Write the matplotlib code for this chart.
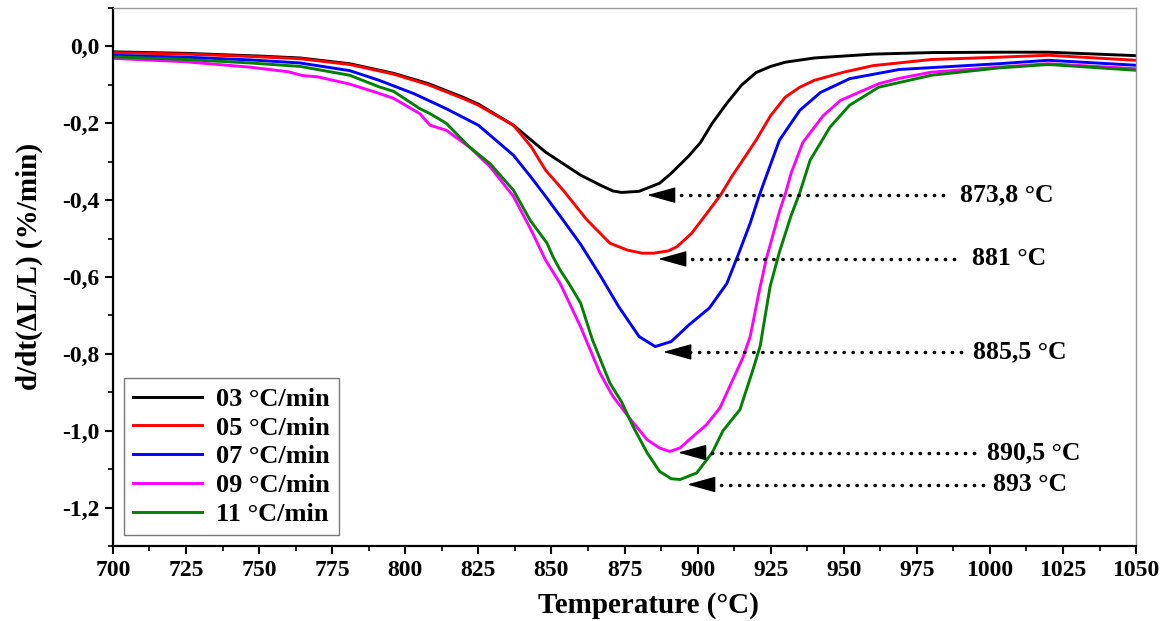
import numpy as np
import matplotlib
matplotlib.use("Agg")
import matplotlib.pyplot as plt
from matplotlib.ticker import MultipleLocator, FuncFormatter

plt.rcParams['font.family'] = ['Liberation Serif', 'DejaVu Serif']
plt.rcParams['font.weight'] = 'bold'

# data
t_03 = [700, 725, 750, 764, 781, 796, 808, 820, 825, 837, 848, 860, 867, 871, 874, 880, 887,
        891, 897, 901, 905, 910, 915, 920, 925, 930, 940, 960, 980, 1003, 1020, 1050]
y_03 = [-0.014, -0.018, -0.025, -0.030, -0.045, -0.070, -0.097, -0.133, -0.150, -0.205, -0.275,
        -0.335, -0.362, -0.376, -0.380, -0.377, -0.356, -0.330, -0.285, -0.250, -0.200, -0.148,
        -0.101, -0.068, -0.052, -0.041, -0.030, -0.020, -0.016, -0.015, -0.015, -0.024]

t_05 = [700, 725, 747, 764, 781, 796, 808, 820, 825, 837, 843, 848, 854, 862, 870, 876, 881,
        885, 890, 893, 898, 904, 908, 912, 916, 920, 925, 930, 935, 940, 950, 960, 980, 1003,
        1020, 1050]
y_05 = [-0.016, -0.020, -0.026, -0.032, -0.047, -0.072, -0.100, -0.136, -0.153, -0.205, -0.260,
        -0.322, -0.374, -0.450, -0.512, -0.530, -0.538, -0.538, -0.532, -0.521, -0.486, -0.426,
        -0.385, -0.335, -0.290, -0.244, -0.180, -0.132, -0.106, -0.088, -0.067, -0.050, -0.034,
        -0.028, -0.023, -0.036]

t_07 = [700, 725, 747, 764, 781, 791, 803, 814, 825, 831, 837, 843, 848, 854, 860, 867, 873,
        880, 885.5, 891, 897, 904, 910, 914, 918, 921, 923, 928, 935, 942, 952, 969, 1003,
        1020, 1050]
y_07 = [-0.023, -0.028, -0.035, -0.043, -0.063, -0.088, -0.123, -0.162, -0.205, -0.244, -0.283,
        -0.340, -0.390, -0.452, -0.515, -0.600, -0.677, -0.755, -0.781, -0.768, -0.725, -0.681,
        -0.617, -0.540, -0.460, -0.390, -0.348, -0.244, -0.166, -0.120, -0.084, -0.060, -0.045,
        -0.036, -0.049]

t_09 = [700, 725, 747, 760, 765, 770, 781, 791, 796, 805, 808.5, 814, 822, 829, 837, 843, 848,
        853, 860, 866.6, 871, 877, 882.7, 887, 890.5, 894, 898.4, 903, 907.7, 912, 915.5, 918,
        921, 923.6, 928, 930, 932, 936, 943, 949, 962, 969, 980, 1003, 1020, 1050]
y_09 = [-0.031, -0.040, -0.054, -0.066, -0.076, -0.079, -0.098, -0.122, -0.135, -0.175, -0.205,
        -0.218, -0.262, -0.313, -0.390, -0.477, -0.556, -0.617, -0.730, -0.850, -0.910, -0.970,
        -1.023, -1.045, -1.054, -1.045, -1.015, -0.985, -0.940, -0.868, -0.810, -0.755, -0.640,
        -0.550, -0.430, -0.384, -0.330, -0.250, -0.180, -0.140, -0.097, -0.083, -0.067, -0.054,
        -0.045, -0.058]

t_11 = [700, 725, 747, 764, 781, 791, 796, 805, 808.5, 814, 822, 829, 837, 842.7, 848.5, 850.5,
        853, 856, 860, 864, 870, 874, 878, 882.7, 887, 891, 894, 899.7, 905, 908.7, 914.5, 919,
        921.4, 924.8, 928, 932, 935, 938.5, 942, 945.3, 952, 962, 980, 1003, 1020, 1050]
y_11 = [-0.027, -0.034, -0.043, -0.052, -0.075, -0.105, -0.117, -0.162, -0.175, -0.200, -0.262,
        -0.305, -0.374, -0.452, -0.512, -0.547, -0.582, -0.617, -0.668, -0.763, -0.876, -0.925,
        -0.990, -1.057, -1.106, -1.125, -1.127, -1.110, -1.057, -1.000, -0.945, -0.840, -0.780,
        -0.625, -0.535, -0.440, -0.380, -0.296, -0.252, -0.210, -0.153, -0.106, -0.075, -0.056,
        -0.047, -0.062]

series = [
    ("03 °C/min", t_03, y_03, "black"),
    ("05 °C/min", t_05, y_05, "red"),
    ("07 °C/min", t_07, y_07, "blue"),
    ("09 °C/min", t_09, y_09, "magenta"),
    ("11 °C/min", t_11, y_11, "green"),
]

# peak annotations: label, arrow tip (x, y), dotted line start/end, text x
peak_labels = ["873,8 °C", "881 °C", "885,5 °C", "890,5 °C", "893 °C"]
tip_x = [882.7, 886.5, 888.2, 893.3, 896.4]
tip_y = [-0.387, -0.553, -0.795, -1.057, -1.140]
base_x = [891.2, 895.0, 897.4, 901.8, 905.0]
end_x = [985.7, 989.8, 991.5, 996.6, 999.0]
text_x = [989.8, 993.9, 994.2, 999.0, 1001.1]

fig = plt.figure(figsize=(11.73, 6.21), dpi=100)
ax = fig.add_axes([0.0963, 0.1208, 0.8722, 0.8663])

for label, t, y, c in series:
    ax.plot(t, y, color=c, lw=2.1, label=label)

for lab, tx, ty, bx, ex, xx in zip(peak_labels, tip_x, tip_y, base_x, end_x, text_x):
    ax.plot([bx, ex], [ty, ty], color='black', lw=2.5, ls=(0, (0.1, 2.5)),
            dash_capstyle='round')
    ax.annotate('', xy=(tx, ty), xytext=(bx, ty),
                arrowprops=dict(arrowstyle='-|>,head_length=0.9,head_width=0.25',
                                color='black', lw=1, shrinkA=0, shrinkB=0,
                                mutation_scale=20))
    ax.text(xx, ty, lab, ha='left', va='center', fontsize=18.5, fontweight='bold')

ax.set_xlim(700, 1050)
ax.set_ylim(-1.3, 0.1)
ax.xaxis.set_major_locator(MultipleLocator(25))
ax.xaxis.set_minor_locator(MultipleLocator(12.5))
ax.yaxis.set_major_locator(MultipleLocator(0.2))
ax.yaxis.set_minor_locator(MultipleLocator(0.1))


def comma_fmt(v, pos):
    if abs(v) < 1e-9:
        v = 0.0
    return f"{v:.1f}".replace('.', ',')


ax.yaxis.set_major_formatter(FuncFormatter(comma_fmt))

ax.tick_params(which='major', direction='out', length=6, width=1.5, labelsize=17, pad=4,
               top=False, right=False)
ax.tick_params(which='minor', direction='out', length=3.5, width=1.2, top=False, right=False)
for lab in ax.get_xticklabels() + ax.get_yticklabels():
    lab.set_fontweight('bold')

for s in ['left', 'bottom']:
    ax.spines[s].set_linewidth(1.6)
    ax.spines[s].set_color('black')
for s in ['top', 'right']:
    ax.spines[s].set_linewidth(1.0)
    ax.spines[s].set_color('#999999')

ax.set_xlabel('Temperature (°C)', fontsize=21, fontweight='bold')
ax.xaxis.set_label_coords(0.523, -0.085)
ax.set_ylabel('d/dt(ΔL/L) (%/min)', fontsize=21, fontweight='bold')
ax.yaxis.set_label_coords(-0.068, 0.52)

leg = ax.legend(loc='lower left', bbox_to_anchor=(0.0108, 0.0204), borderaxespad=0,
                fontsize=19, handlelength=2.6, handletextpad=0.55, labelspacing=0.2,
                borderpad=0.35, fancybox=False, framealpha=1)
leg.get_frame().set_edgecolor('#777777')
leg.get_frame().set_linewidth(1.0)
for txt in leg.get_texts():
    txt.set_fontweight('bold')

fig.savefig('out.png', dpi=100)
